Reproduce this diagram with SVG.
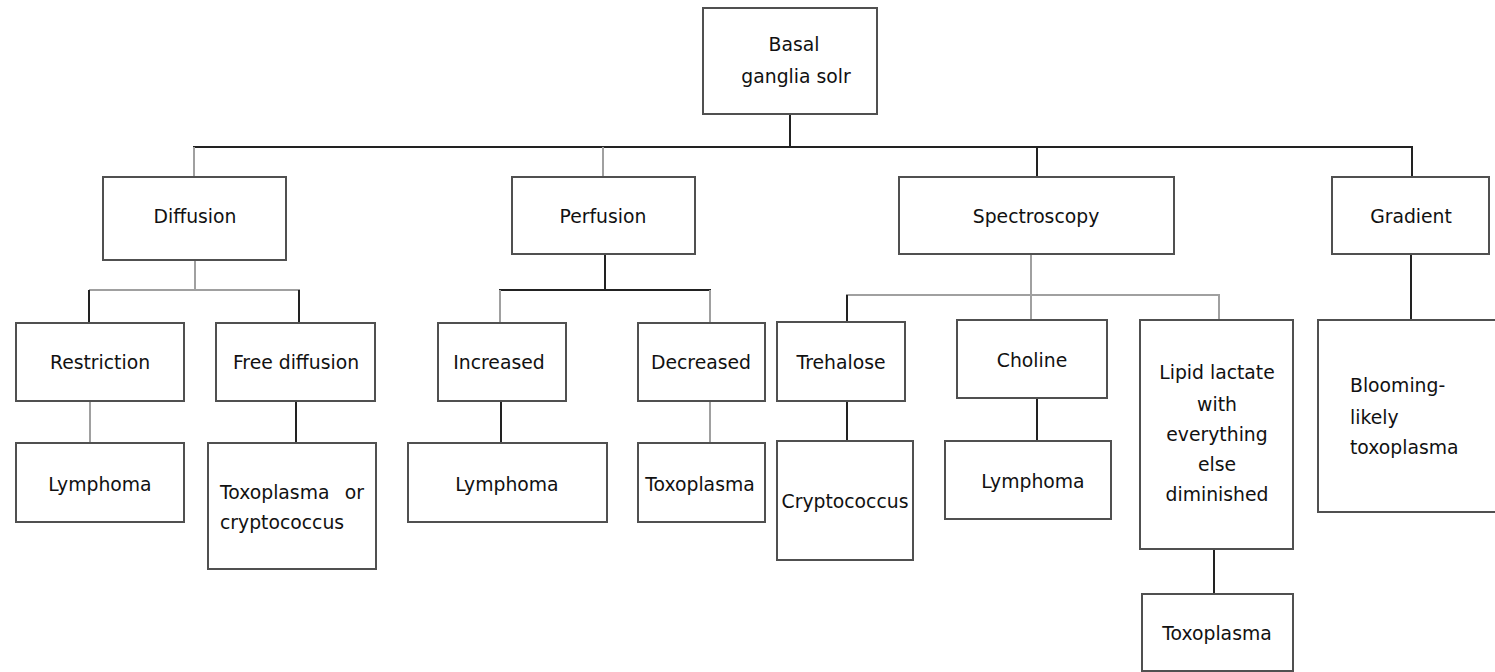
<svg xmlns="http://www.w3.org/2000/svg" width="1495" height="672" viewBox="0 0 1495 672">
<style>
.box{fill:#fff;stroke:#505050;stroke-width:2}
.t{font-family:"DejaVu Sans","Liberation Sans",sans-serif;font-size:18.8px;fill:#111;text-anchor:middle}
.l{text-anchor:start}
.e{text-anchor:end}
.k{stroke:#222;stroke-width:2;fill:none}
.g{stroke:#a0a0a0;stroke-width:2;fill:none}
</style>
<rect width="1495" height="672" fill="#fff"/>
<g id="connectors">
<line class="k" x1="790" y1="114" x2="790" y2="147"/>
<line class="k" x1="193" y1="147" x2="1413" y2="147"/>
<line class="g" x1="194" y1="147" x2="194" y2="177"/>
<line class="g" x1="603" y1="147" x2="603" y2="177"/>
<line class="k" x1="1037" y1="147" x2="1037" y2="177"/>
<line class="k" x1="1412" y1="147" x2="1412" y2="177"/>
<line class="g" x1="195" y1="260" x2="195" y2="290"/>
<line class="g" x1="89" y1="290" x2="300" y2="290"/>
<line class="k" x1="89" y1="290" x2="89" y2="323"/>
<line class="k" x1="299" y1="290" x2="299" y2="323"/>
<line class="g" x1="90" y1="401" x2="90" y2="443"/>
<line class="k" x1="296" y1="401" x2="296" y2="443"/>
<line class="k" x1="605" y1="254" x2="605" y2="290"/>
<line class="k" x1="499" y1="290" x2="711" y2="290"/>
<line class="g" x1="500" y1="290" x2="500" y2="323"/>
<line class="g" x1="710" y1="290" x2="710" y2="323"/>
<line class="k" x1="501" y1="401" x2="501" y2="443"/>
<line class="g" x1="710" y1="401" x2="710" y2="443"/>
<line class="g" x1="1031" y1="254" x2="1031" y2="320"/>
<line class="g" x1="846" y1="295" x2="1220" y2="295"/>
<line class="k" x1="847" y1="295" x2="847" y2="322"/>
<line class="g" x1="1219" y1="295" x2="1219" y2="320"/>
<line class="k" x1="847" y1="401" x2="847" y2="441"/>
<line class="k" x1="1037" y1="398" x2="1037" y2="441"/>
<line class="k" x1="1214" y1="549" x2="1214" y2="594"/>
<line class="k" x1="1411" y1="254" x2="1411" y2="320"/>
</g>
<g id="root"><rect class="box" x="703" y="8" width="174" height="106"/><text class="t" x="794" y="51">Basal</text><text class="t" x="796" y="83">ganglia solr</text></g>
<g id="diffusion"><rect class="box" x="103" y="177" width="183" height="83"/><text class="t" x="195" y="223">Diffusion</text></g>
<g id="perfusion"><rect class="box" x="512" y="177" width="183" height="77"/><text class="t" x="603" y="223">Perfusion</text></g>
<g id="spectroscopy"><rect class="box" x="899" y="177" width="275" height="77"/><text class="t" x="1036" y="223">Spectroscopy</text></g>
<g id="gradient"><rect class="box" x="1332" y="177" width="157" height="77"/><text class="t" x="1411" y="223">Gradient</text></g>
<g id="restriction"><rect class="box" x="16" y="323" width="168" height="78"/><text class="t" x="100" y="369">Restriction</text></g>
<g id="free-diffusion"><rect class="box" x="216" y="323" width="159" height="78"/><text class="t" x="296" y="369">Free diffusion</text></g>
<g id="lymphoma-1"><rect class="box" x="16" y="443" width="168" height="79"/><text class="t" x="100" y="491">Lymphoma</text></g>
<g id="toxo-crypto"><rect class="box" x="208" y="443" width="168" height="126"/><text class="t l" x="220" y="499">Toxoplasma</text><text class="t e" x="364" y="499">or</text><text class="t l" x="220" y="529">cryptococcus</text></g>
<g id="increased"><rect class="box" x="438" y="323" width="128" height="78"/><text class="t" x="499" y="369">Increased</text></g>
<g id="decreased"><rect class="box" x="638" y="323" width="127" height="78"/><text class="t" x="701" y="369">Decreased</text></g>
<g id="lymphoma-2"><rect class="box" x="408" y="443" width="199" height="79"/><text class="t" x="507" y="491">Lymphoma</text></g>
<g id="toxoplasma-1"><rect class="box" x="638" y="443" width="127" height="79"/><text class="t" x="700" y="491">Toxoplasma</text></g>
<g id="trehalose"><rect class="box" x="777" y="322" width="128" height="79"/><text class="t" x="841" y="369">Trehalose</text></g>
<g id="choline"><rect class="box" x="957" y="320" width="150" height="78"/><text class="t" x="1032" y="367">Choline</text></g>
<g id="lipid"><rect class="box" x="1140" y="320" width="153" height="229"/><text class="t" x="1217" y="379">Lipid lactate</text><text class="t" x="1217" y="411">with</text><text class="t" x="1217" y="441">everything</text><text class="t" x="1217" y="471">else</text><text class="t" x="1217" y="501">diminished</text></g>
<g id="blooming"><rect class="box" x="1318" y="320" width="178" height="192"/><text class="t l" x="1350" y="392">Blooming-</text><text class="t l" x="1350" y="424">likely</text><text class="t l" x="1350" y="454">toxoplasma</text></g>
<g id="cryptococcus"><rect class="box" x="777" y="441" width="136" height="119"/><text class="t" x="845" y="508">Cryptococcus</text></g>
<g id="lymphoma-3"><rect class="box" x="945" y="441" width="166" height="78"/><text class="t" x="1033" y="488">Lymphoma</text></g>
<g id="toxoplasma-2"><rect class="box" x="1142" y="594" width="151" height="77"/><text class="t" x="1217" y="640">Toxoplasma</text></g>
</svg>
